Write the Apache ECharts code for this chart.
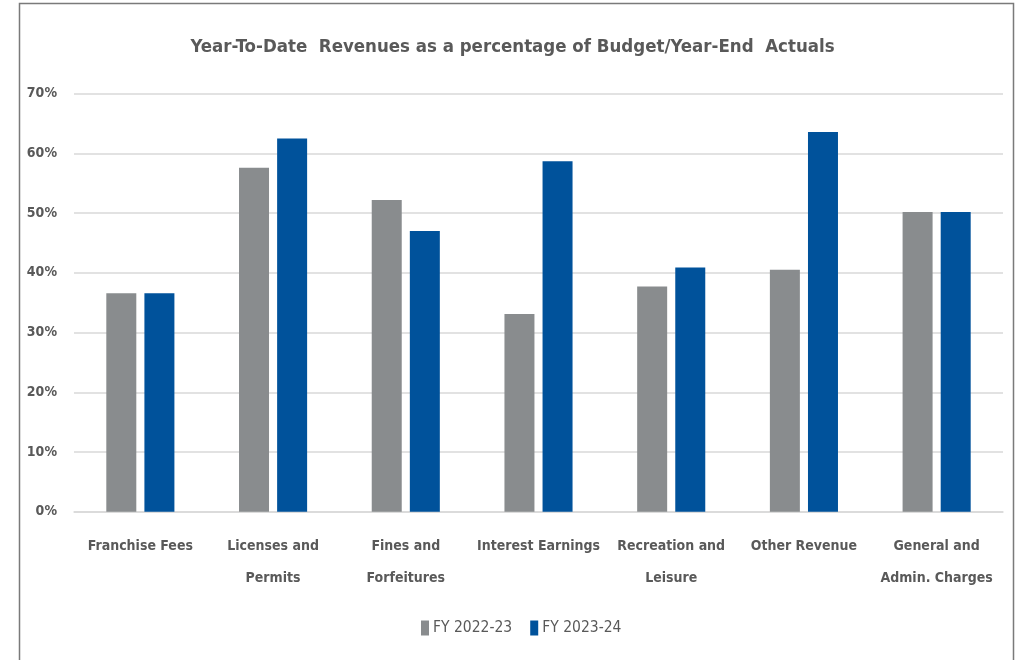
<!DOCTYPE html>
<html>
<head>
<meta charset="utf-8">
<script src="https://cdn.jsdelivr.net/npm/echarts@6/dist/echarts.min.js"></script>
<style>
  html, body { margin: 0; padding: 0; background: #ffffff; }
  #chart { width: 1025px; height: 660px; }
</style>
</head>
<body>
<div id="chart"></div>
<script>
// Revenue categories along the x axis
const categories = [
  'Franchise Fees',
  'Licenses and\nPermits',
  'Fines and\nForfeitures',
  'Interest Earnings',
  'Recreation and\nLeisure',
  'Other Revenue',
  'General and\nAdmin. Charges'
];

// Year-to-date revenue as a share of budget / year-end actuals
const fy2223 = [0.366, 0.576, 0.522, 0.331, 0.377, 0.405, 0.502];
const fy2324 = [0.366, 0.625, 0.470, 0.587, 0.409, 0.636, 0.502];

const seriesNames = ['FY 2022-23', 'FY 2023-24'];
const yTicks = { min: 0, max: 0.7, step: 0.1 };

const FONT = '"Liberation Sans Narrow", "DejaVu Sans Condensed", "Noto Sans", sans-serif';
const TEXT = '#595959';

const chart = echarts.init(document.getElementById('chart'), null, { renderer: 'canvas' });

chart.setOption({
  backgroundColor: '#ffffff',
  animation: false,
  title: {
    text: 'Year-To-Date  Revenues as a percentage of Budget/Year-End  Actuals',
    left: 'center',
    top: 33,
    textStyle: { fontFamily: FONT, fontSize: 18.5, fontWeight: 'bold', color: TEXT }
  },
  legend: {
    bottom: 19,
    left: 416,
    itemWidth: 8,
    itemHeight: 15,
    itemGap: 18,
    icon: 'rect',
    textStyle: { fontFamily: FONT, fontSize: 15.5, color: TEXT, padding: [0, 0, 0, -1] },
    data: seriesNames
  },
  grid: { left: 74, right: 22, top: 93.7, bottom: 148.3 },
  xAxis: {
    type: 'category',
    data: categories,
    axisLine: { show: true, lineStyle: { color: '#d9d9d9', width: 1.5 } },
    axisTick: { show: false },
    axisLabel: {
      interval: 0,
      margin: 19,
      fontFamily: FONT,
      fontSize: 14,
      fontWeight: 'bold',
      color: TEXT,
      lineHeight: 32
    }
  },
  yAxis: {
    type: 'value',
    min: yTicks.min,
    max: yTicks.max,
    interval: yTicks.step,
    axisLine: { show: false },
    axisTick: { show: false },
    splitLine: { lineStyle: { color: '#d9d9d9', width: 1.5 } },
    axisLabel: {
      margin: 17,
      fontFamily: FONT,
      fontSize: 14,
      fontWeight: 'bold',
      color: TEXT,
      formatter: v => Math.round(v * 100) + '%'
    }
  },
  series: [
    {
      name: seriesNames[0],
      type: 'bar',
      data: fy2223,
      barWidth: 30,
      barGap: '27%',
      itemStyle: { color: '#898c8e' }
    },
    {
      name: seriesNames[1],
      type: 'bar',
      data: fy2324,
      barWidth: 30,
      barGap: '27%',
      itemStyle: { color: '#00529b' }
    }
  ],
  graphic: [
    {
      type: 'rect',
      silent: true,
      shape: { x: 19.5, y: 3.5, width: 994, height: 700 },
      style: { fill: 'none', stroke: '#7a7a7a', lineWidth: 1.5 }
    }
  ]
});
</script>
</body>
</html>
